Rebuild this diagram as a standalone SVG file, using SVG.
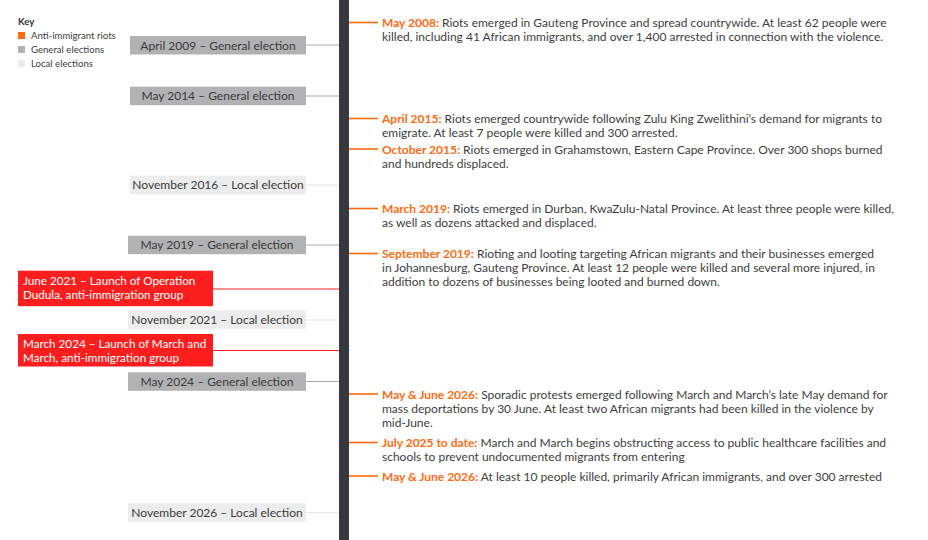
<svg xmlns="http://www.w3.org/2000/svg" width="928" height="540" viewBox="0 0 928 540">
<style>
text{font-family:Lato,"Noto Sans","Liberation Sans",sans-serif;}
.key{font-size:9.6px;fill:#3d3d3d}
.el{font-size:12px;fill:#3a3a3a;text-anchor:middle}
.gen{fill:#b2b2b5}
.loc{fill:#ececec}
.red{fill:#ff1e1e}
.rt{font-size:11.7px;fill:#ffffff}
.ev{font-size:12px;fill:#3d3d3d}
.hd{font-weight:bold;fill:#ff6b10}
.cg{stroke:#adadb0;stroke-width:1.2}
.cl{stroke:#e6e6e6;stroke-width:1.2}
.cr{stroke:#ff1e1e;stroke-width:1.2}
.co{stroke:#ff6b10;stroke-width:1.6}
</style>
<rect width="928" height="540" fill="#ffffff"/>
<g id="key">
<text x="18" y="25" style="font-size:9.6px;font-weight:bold;fill:#333">Key</text>
<rect x="18" y="32" width="7" height="7" fill="#ff6b10"/>
<text x="31" y="39" class="key">Anti-immigrant riots</text>
<rect x="18" y="46" width="7" height="7" fill="#b2b2b5"/>
<text x="31" y="53" class="key">General elections</text>
<rect x="18" y="60" width="7" height="7" fill="#ececec"/>
<text x="31" y="67" class="key">Local elections</text>
</g>
<g id="connectors">
<line class="cg" x1="306" y1="45" x2="340" y2="45"/>
<line class="cg" x1="306" y1="96" x2="340" y2="96"/>
<line class="cl" x1="306" y1="185" x2="340" y2="185"/>
<line class="cg" x1="306" y1="245" x2="340" y2="245"/>
<line class="cr" x1="212" y1="289" x2="340" y2="289"/>
<line class="cl" x1="306" y1="320" x2="340" y2="320"/>
<line class="cr" x1="212" y1="350.5" x2="340" y2="350.5"/>
<line class="cg" x1="306" y1="381.5" x2="340" y2="381.5"/>
<line class="cl" x1="306" y1="512.5" x2="340" y2="512.5"/>
<line class="co" x1="349" y1="22.5" x2="378" y2="22.5"/>
<line class="co" x1="349" y1="118.5" x2="378" y2="118.5"/>
<line class="co" x1="349" y1="149" x2="378" y2="149"/>
<line class="co" x1="349" y1="208.5" x2="378" y2="208.5"/>
<line class="co" x1="349" y1="253.5" x2="378" y2="253.5"/>
<line class="co" x1="349" y1="394" x2="378" y2="394"/>
<line class="co" x1="349" y1="442.5" x2="378" y2="442.5"/>
<line class="co" x1="349" y1="476" x2="378" y2="476"/>
</g>
<g id="axis"><rect x="339" y="0" width="10" height="540" fill="#36383e"/></g>
<g id="e2009"><rect class="gen" x="130" y="36" width="176" height="18.5"/><text class="el" x="218" y="49.5">April 2009 – General election</text></g>
<g id="e2014"><rect class="gen" x="130" y="86.7" width="176" height="18.5"/><text class="el" x="218" y="100.2">May 2014 – General election</text></g>
<g id="e2016"><rect class="loc" x="130" y="175.7" width="176" height="18.5"/><text class="el" x="218" y="189.2">November 2016 – Local election</text></g>
<g id="e2019"><rect class="gen" x="128" y="235.7" width="178" height="18.5"/><text class="el" x="217" y="249.2">May 2019 – General election</text></g>
<g id="dudula"><rect class="red" x="18" y="270.7" width="195" height="35.5"/><text class="rt" x="23" y="284.5">June 2021 – Launch of Operation</text><text class="rt" x="23" y="298.5">Dudula, anti-immigration group</text></g>
<g id="e2021"><rect class="loc" x="128" y="310.3" width="178" height="18.5"/><text class="el" x="217" y="323.8">November 2021 – Local election</text></g>
<g id="march"><rect class="red" x="18" y="334" width="195" height="32.5"/><text class="rt" x="23" y="347.5">March 2024 – Launch of March and</text><text class="rt" x="23" y="361.5">March, anti-immigration group</text></g>
<g id="e2024"><rect class="gen" x="128" y="372.3" width="178" height="18.5"/><text class="el" x="217" y="385.8">May 2024 – General election</text></g>
<g id="e2026"><rect class="loc" x="128" y="503.3" width="178" height="18.5"/><text class="el" x="217" y="516.8">November 2026 – Local election</text></g>
<g id="r2008"><text class="ev" x="382" y="27"><tspan class="hd">May 2008:</tspan> Riots emerged in Gauteng Province and spread countrywide. At least 62 people were</text><text class="ev" x="382" y="41">killed, including 41 African immigrants, and over 1,400 arrested in connection with the violence.</text></g>
<g id="r2015a"><text class="ev" x="382" y="123"><tspan class="hd">April 2015:</tspan> Riots emerged countrywide following Zulu King Zwelithini’s demand for migrants to</text><text class="ev" x="382" y="137">emigrate. At least 7 people were killed and 300 arrested.</text></g>
<g id="r2015o"><text class="ev" x="382" y="153.5"><tspan class="hd">October 2015:</tspan> Riots emerged in Grahamstown, Eastern Cape Province. Over 300 shops burned</text><text class="ev" x="382" y="167.5">and hundreds displaced.</text></g>
<g id="r2019m"><text class="ev" x="382" y="213"><tspan class="hd">March 2019:</tspan> Riots emerged in Durban, KwaZulu-Natal Province. At least three people were killed,</text><text class="ev" x="382" y="227">as well as dozens attacked and displaced.</text></g>
<g id="r2019s"><text class="ev" x="382" y="258"><tspan class="hd">September 2019:</tspan> Rioting and looting targeting African migrants and their businesses emerged</text><text class="ev" x="382" y="272">in Johannesburg, Gauteng Province. At least 12 people were killed and several more injured, in</text><text class="ev" x="382" y="286">addition to dozens of businesses being looted and burned down.</text></g>
<g id="r2026a"><text class="ev" x="382" y="398.5"><tspan class="hd">May &amp; June 2026:</tspan> Sporadic protests emerged following March and March’s late May demand for</text><text class="ev" x="382" y="412.5">mass deportations by 30 June. At least two African migrants had been killed in the violence by</text><text class="ev" x="382" y="426.5">mid-June.</text></g>
<g id="r2025"><text class="ev" x="382" y="447"><tspan class="hd">July 2025 to date:</tspan> March and March begins obstructing access to public healthcare facilities and</text><text class="ev" x="382" y="461">schools to prevent undocumented migrants from entering</text></g>
<g id="r2026b"><text class="ev" x="382" y="480.5"><tspan class="hd">May &amp; June 2026:</tspan> At least 10 people killed, primarily African immigrants, and over 300 arrested</text></g>
</svg>
